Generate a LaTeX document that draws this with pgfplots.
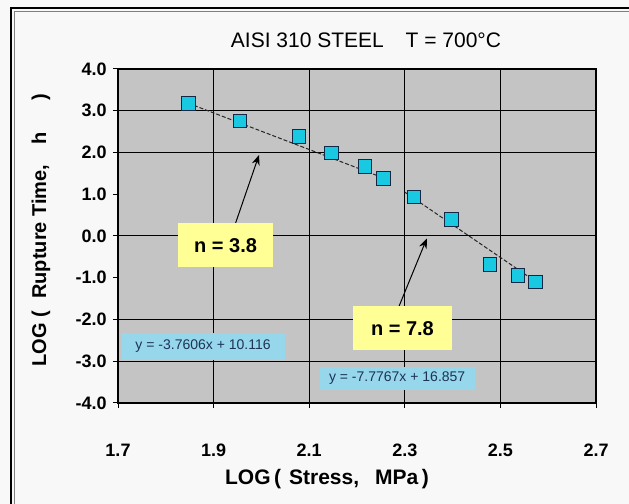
\documentclass[border=0pt]{standalone}
\usepackage{fontspec}
\setmainfont{Liberation Sans}
\usepackage{pgfplots}
\pgfplotsset{compat=1.18}
\usetikzlibrary{arrows.meta}
\definecolor{plotgray}{RGB}{196,196,196}
\definecolor{turq}{RGB}{25,200,225}
\definecolor{markedge}{RGB}{20,40,70}
\definecolor{ybox}{RGB}{255,255,150}
\definecolor{eqbox}{RGB}{150,215,235}
\definecolor{eqtext}{RGB}{30,50,90}
\definecolor{outerbg}{RGB}{248,248,248}
\begin{document}
\begin{tikzpicture}
\fill[outerbg] (-59pt,-50.5pt) rectangle (255.5pt,201.5pt);
\begin{axis}[name=ax, at={(0,0)}, anchor=south west,
  scale only axis, width=239pt, height=167pt,
  xmin=1.7, xmax=2.7, ymin=-4, ymax=4,
  xtick={1.7,1.9,2.1,2.3,2.5,2.7}, xticklabels={1.7,1.9,2.1,2.3,2.5,2.7},
  ytick={-4,-3,-2,-1,0,1,2,3,4},
  yticklabels={-4.0,-3.0,-2.0,-1.0,0.0,1.0,2.0,3.0,4.0},
  tick align=outside, major tick length=2.5pt, tick style={black, line width=0.5pt},
  tick pos=left,
  xmajorgrids, grid style={black, line width=0.5pt},
  extra y ticks={-3,-2,0,2,3}, extra y tick labels={},
  extra y tick style={grid=major, major tick length=0pt},
  axis background/.style={fill=plotgray},
  axis line style={black, line width=0.6pt},
  tick label style={font=\bfseries\fontsize{9}{10}\selectfont},
  x tick label style={anchor=north, inner sep=0pt, yshift=-18pt},
  y tick label style={anchor=east, inner sep=0pt, xshift=-3pt},
  clip=false,
]
\addplot[only marks, mark=square*, mark size=3.4pt,
  mark options={fill=turq, draw=markedge, line width=0.5pt}]
  coordinates {
  (1.847,3.18) (1.955,2.75) (2.079,2.38) (2.147,1.99) (2.217,1.66)
  (2.255,1.38) (2.319,0.93) (2.398,0.40) (2.478,-0.68) (2.537,-0.94)
  (2.574,-1.10)};
\addplot[dashed, dash pattern=on 2pt off 1pt, black!85, line width=0.5pt]
  coordinates {(1.847,3.18) (2.26,1.37)};
\addplot[dashed, dash pattern=on 2pt off 1pt, black!85, line width=0.5pt]
  coordinates {(2.30,1.05) (2.575,-1.10)};
\draw[black, line width=0.5pt, -{Stealth[length=5pt,width=4pt]}]
  (axis cs:1.946,0.31) -- (axis cs:1.995,1.94);
\draw[black, line width=0.5pt, -{Stealth[length=5pt,width=4pt]}]
  (axis cs:2.288,-1.68) -- (axis cs:2.346,-0.06);
\node[fill=ybox, minimum width=47.5pt, minimum height=22pt, inner sep=0pt,
  font=\bfseries\fontsize{10}{12}\selectfont] at (axis cs:1.925,-0.22) {n = 3.8};
\node[fill=ybox, minimum width=49.5pt, minimum height=22pt, inner sep=0pt,
  font=\bfseries\fontsize{10}{12}\selectfont] at (axis cs:2.295,-2.21) {n = 7.8};
\node[fill=eqbox, text=eqtext, minimum width=81.5pt, minimum height=13.5pt, inner sep=0pt,
  font=\fontsize{7}{8}\selectfont] at (axis cs:1.878,-2.64) {y = -3.7606x + 10.116};
\node[fill=eqbox, text=eqtext, minimum width=77.5pt, minimum height=11.5pt, inner sep=0pt,
  font=\fontsize{7}{8}\selectfont] at (axis cs:2.284,-3.41) {y = -7.7767x + 16.857};
\end{axis}
\draw[black, line width=1.2pt] (ax.south west) -- (ax.south east);
\node[font=\fontsize{10.5}{12}\selectfont] at ([shift={(124pt,181.5pt)}]ax.south west)
  {AISI 310 STEEL\hspace{8pt} T = 700°C};
\node[font=\bfseries\fontsize{10.5}{12}\selectfont] at ([shift={(104.5pt,-38pt)}]ax.south west)
  {LOG\,(\hspace{4pt}Stress,\hspace{8pt}MPa\,)};
\node[rotate=90, font=\bfseries\fontsize{10}{12}\selectfont] at ([shift={(-38.5pt,86.5pt)}]ax.south west)
  {LOG (\hspace{6pt}Rupture Time,\hspace{10pt}h\hspace{16pt})};
\draw[black, line width=1pt] ([shift={(-53.5pt,-60pt)}]ax.south west) -- ([shift={(-53.5pt,197.5pt)}]ax.south west) -- ([shift={(270pt,197.5pt)}]ax.south west);
\draw[gray, line width=0.4pt] ([shift={(-52pt,-60pt)}]ax.south west) -- ([shift={(-52pt,196pt)}]ax.south west) -- ([shift={(270pt,196pt)}]ax.south west);
\pgfresetboundingbox
\path ([shift={(-59pt,-50.5pt)}]ax.south west) rectangle ([shift={(16.5pt,34.5pt)}]ax.north east);
\end{tikzpicture}
\end{document}
